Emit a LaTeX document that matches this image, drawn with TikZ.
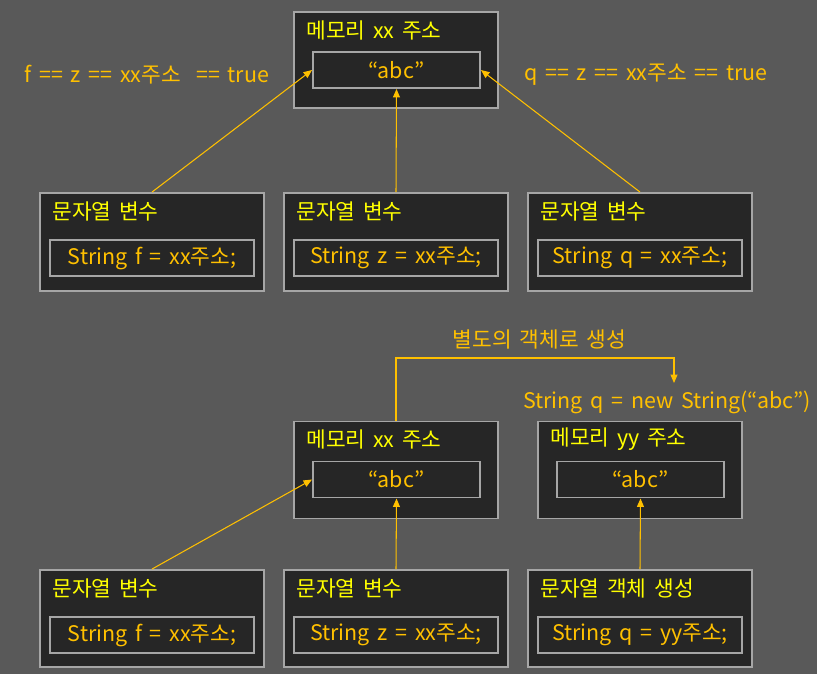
\documentclass[tikz,border=0pt]{standalone}
\usepackage{fontspec}
\setmainfont[WordSpace=1.6]{Noto Sans CJK KR}
\usetikzlibrary{arrows.meta}
\definecolor{fondo}{HTML}{595959}
\definecolor{negro}{HTML}{262626}
\definecolor{gris}{HTML}{A6A6A6}
\definecolor{amarillo}{HTML}{FFFF00}
\definecolor{naranja}{HTML}{FFC000}

\begin{document}
\begin{tikzpicture}[
  x=0.02cm, y=-0.02cm,
  font=\fontsize{12.2pt}{14pt}\selectfont,
  caja/.style={draw=gris, line width=1.1pt, fill=negro, inner sep=0pt},
  celda/.style={draw=gris, line width=1.1pt, fill=negro, inner sep=0pt,
    minimum height=0.72cm, text=naranja},
  titulo/.style={anchor=west, inner sep=0pt, text=amarillo},
  nota/.style={inner sep=0pt, text=naranja},
  flecha/.style={-{Triangle[length=1.7mm,width=1.4mm]}, naranja, line width=0.6pt}
]
  \fill[fondo] (0,0) rectangle (817,674);
  \useasboundingbox (0,0) rectangle (817,674);

  % arriba
  \node[caja, minimum width=4.08cm, minimum height=1.92cm] (mem) at (396,60) {};
  \node[titulo] at (306,30) {메모리 xx 주소};
  \node[celda, minimum width=3.34cm] (abc) at (396.5,70) {“abc”};
  \node[nota] (igualf) at (147,75) {f == z == xx주소 \ == true};
  \node[nota] (igualq) at (646,75) {q == z == xx주소 == true};

  \node[caja, minimum width=4.48cm, minimum height=1.96cm] (varf) at (152,242) {};
  \node[titulo] at (52,211) {문자열 변수};
  \node[celda, minimum width=4.08cm] (codf) at (152,258) {String f = xx주소;};
  \node[caja, minimum width=4.48cm, minimum height=1.96cm] (varz) at (396,242) {};
  \node[titulo] at (296,211) {문자열 변수};
  \node[celda, minimum width=4.08cm] (codz) at (396,258) {String z = xx주소;};
  \node[caja, minimum width=4.48cm, minimum height=1.96cm] (varq) at (640,242) {};
  \node[titulo] at (540,211) {문자열 변수};
  \node[celda, minimum width=4.08cm] (codq) at (640,258) {String q = xx주소;};

  \draw[flecha] (varf.north) -- (abc.west);
  \draw[flecha] (varz.north) -- (abc.south);
  \draw[flecha] (varq.north) -- (abc.east);

  % abajo
  \node[caja, minimum width=4.08cm, minimum height=1.94cm] (memb) at (396,470) {};
  \node[titulo] at (306,439) {메모리 xx 주소};
  \node[celda, minimum width=3.34cm] (abcb) at (396.5,479.5) {“abc”};
  \node[caja, minimum width=4.08cm, minimum height=1.94cm] (memn) at (640,470) {};
  \node[titulo] at (550,439) {메모리 yy 주소};
  \node[celda, minimum width=3.34cm] (abcn) at (640.5,479.5) {“abc”};

  \node[nota] (nuevo) at (667,402) {String q = new String(“abc”)};
  \coordinate (giro) at (674,358);
  \coordinate (fin) at (674,383);
  \draw[flecha] (memb.north) |- node[nota, pos=0.758, above=4.5pt] {별도의 객체로 생성}
        (giro) -- (fin);

  \node[caja, minimum width=4.48cm, minimum height=1.94cm] (varfb) at (152,618.5) {};
  \node[titulo] at (52,588) {문자열 변수};
  \node[celda, minimum width=4.08cm] (codfb) at (152,635) {String f = xx주소;};
  \node[caja, minimum width=4.48cm, minimum height=1.94cm] (varzb) at (396,618.5) {};
  \node[titulo] at (296,588) {문자열 변수};
  \node[celda, minimum width=4.08cm] (codzb) at (396,635) {String z = xx주소;};
  \node[caja, minimum width=4.48cm, minimum height=1.94cm] (varqb) at (640,618.5) {};
  \node[titulo] at (540,588) {문자열 객체 생성};
  \node[celda, minimum width=4.08cm] (codqb) at (640,635) {String q = yy주소;};

  \draw[flecha] (varfb.north) -- (abcb.west);
  \draw[flecha] (varzb.north) -- (abcb.south);
  \draw[flecha] (varqb.north) -- (abcn.south);
\end{tikzpicture}
\end{document}
